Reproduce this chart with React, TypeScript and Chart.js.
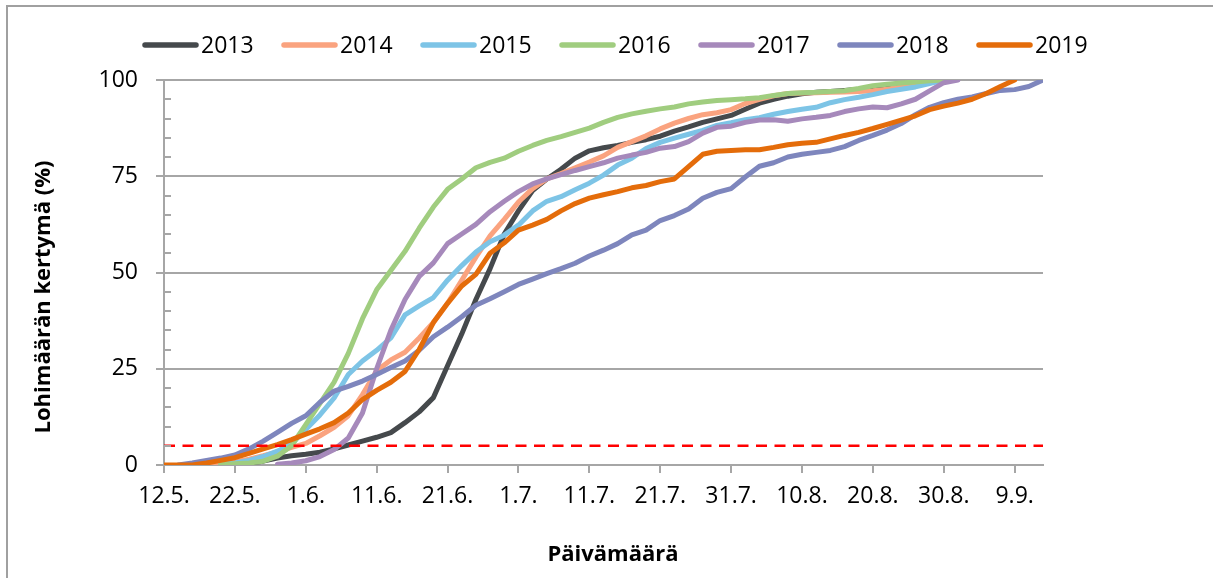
import React, { useEffect, useRef } from 'react';
import { Chart, registerables } from 'chart.js';

Chart.register(...registerables);

// Day index counted from 12.5. (0 = 12.5., 124 = 13.9.)
const dayIndex = [
  0, 2, 4, 6, 8, 10, 12, 14, 16, 18, 20, 22, 24, 26, 28, 30, 32, 34, 36, 38,
  40, 42, 44, 46, 48, 50, 52, 54, 56, 58, 60, 62, 64, 66, 68, 70, 72, 74, 76, 78,
  80, 82, 84, 86, 88, 90, 92, 94, 96, 98, 100, 102, 104, 106, 108, 110, 112, 114, 116, 118,
  120, 122, 124,
];

const xTickLabels = ['12.5.', '22.5.', '1.6.', '11.6.', '21.6.', '1.7.', '11.7.', '21.7.', '31.7.', '10.8.', '20.8.', '30.8.', '9.9.'];

const seriesNames = ['2013', '2014', '2015', '2016', '2017', '2018', '2019'];
const seriesColors = ['#45494c', '#faa37f', '#7dc4e6', '#a0cd7f', '#a689bb', '#7e86bd', '#e46c0a'];

const s2013 = [
  null, null, null, null, null,
  0.2, 0.5, 1.0, 1.8, 2.4,
  2.8, 3.3, 4.2, 5.2, 6.2,
  7.2, 8.4, 11, 13.8, 17.5,
  25.8, 34, 43, 51, 60,
  66, 71.3, 74.3, 76.8, 79.7,
  81.6, 82.4, 83, 83.8, 84.5,
  85.4, 86.7, 87.8, 89, 89.9,
  90.8, 92.4, 94, 95, 95.8,
  96.4, 96.8, 97, 97.3, 97.6,
  98, 98.4, 98.9, 99.3, 99.7,
  100,
  null, null, null, null, null, null, null,
];

const s2014 = [
  null, null, null,
  0.2, 0.5, 0.8, 1.5, 2.4,
  3.4, 4.6, 5.6, 7.6, 9.8,
  12.8, 18.3, 24.5, 27.3, 29.3,
  33, 37, 42, 48, 54,
  59.5, 63.8, 68.3, 71.8, 74.3,
  75.7, 77.2, 78.7, 80.3, 82.5,
  84, 85.5, 87.3, 88.8, 90,
  91, 91.5, 92.3, 93.9, 95,
  95.9, 96.5, 96.6, 96.7, 96.8,
  96.9, 97, 97.2, 97.6, 98.2,
  98.7, 99.5, 100,
  null, null, null, null, null, null, null,
];

const s2015 = [
  null, null, null, null,
  0.2, 0.5, 1.2, 2.2, 3.6,
  5.5, 9.2, 13, 17.4, 23.5,
  27, 29.8, 33, 39, 41.3,
  43.5, 48, 51.8, 55.3, 58,
  59.7, 62.3, 66, 68.5, 69.7,
  71.5, 73.2, 75.3, 77.9, 79.7,
  82.2, 83.8, 84.9, 85.9, 86.9,
  88.2, 88.9, 89.7, 90.2, 91.1,
  91.8, 92.4, 92.9, 94.1, 94.9,
  95.5, 96.2, 97, 97.6, 98.2,
  99.1, 100,
  null, null, null, null, null, null, null,
];

const s2016 = [
  null, null, null, null,
  0.1, 0.3, 0.5, 1, 2.3,
  5, 10.5, 16, 21.5, 29,
  38, 45.5, 50.5, 55.5, 61.5,
  67, 71.6, 74.3, 77.2, 78.6,
  79.7, 81.5, 83, 84.3, 85.3,
  86.4, 87.5, 89, 90.3, 91.2,
  91.9, 92.5, 93, 93.8, 94.3,
  94.7, 94.9, 95.1, 95.4, 96,
  96.5, 96.7, 96.8, 97, 97.2,
  97.8, 98.5, 98.9, 99.2, 99.5,
  99.8, 100,
  null, null, null, null, null, null, null,
];

const s2017 = [
  null, null, null, null, null, null, null, null,
  0.2, 0.5, 1.1, 2.2, 4,
  7, 13.5, 25, 35, 43,
  49, 52.5, 57.5, 60, 62.5,
  65.8, 68.5, 71, 73, 74.3,
  75.4, 76.5, 77.5, 78.5, 79.7,
  80.5, 81.2, 82.3, 82.7, 84,
  86.2, 87.7, 88, 89, 89.6,
  89.7, 89.3, 89.9, 90.3, 90.8,
  91.8, 92.5, 93, 92.8, 93.8,
  95, 97.2, 99.3, 100,
  null, null, null, null, null, null,
];

const s2018 = [
  null,
  0, 0.5, 1.2, 1.8, 2.6,
  4.2, 6.2, 8.5, 10.8, 12.8,
  16.3, 19.2, 20.4, 21.8, 23.5,
  25.3, 27, 29.8, 33.3, 35.8,
  38.5, 41.5, 43.2, 45, 46.9,
  48.3, 49.7, 51, 52.4, 54.3,
  55.8, 57.5, 59.8, 61, 63.5,
  64.8, 66.5, 69.3, 70.8, 71.8,
  74.8, 77.6, 78.5, 80, 80.7,
  81.2, 81.7, 82.7, 84.3, 85.6,
  87, 88.7, 91, 92.9, 94.1,
  95, 95.6, 96.5, 97.3, 97.5,
  98.3, 100,
];

const s2019 = [
  0, 0, 0, 0.5, 1.2,
  1.9, 3, 4.2, 5.3, 6.6,
  8, 9.4, 11, 13.5, 17,
  19.4, 21.5, 24.3, 30, 37,
  42, 46.5, 49.5, 55, 57.7,
  61, 62.3, 63.8, 66, 67.9,
  69.3, 70.2, 71, 72, 72.6,
  73.6, 74.3, 77.5, 80.7, 81.5,
  81.7, 81.9, 81.9, 82.5, 83.2,
  83.6, 83.8, 84.7, 85.6, 86.4,
  87.4, 88.5, 89.6, 90.7, 92.3,
  93.2, 94, 95, 96.5, 98.3,
  100,
  null, null,
];

const seriesValues = [s2013, s2014, s2015, s2016, s2017, s2018, s2019];

const thresholdValue = 5;
const thresholdDays = [0, 124];

const yTitle = 'Lohimäärän kertymä (%)';
const xTitle = 'Päivämäärä';

const FONT = "'Open Sans', 'Noto Sans', sans-serif";
const GRID = '#a6a6a6';

const decorPlugin = {
  id: 'decor',
  beforeDraw(chart: any) {
    const ctx = chart.ctx;
    ctx.save();
    ctx.fillStyle = '#ffffff';
    ctx.fillRect(0, 0, chart.width, chart.height);
    ctx.strokeStyle = '#a0a0a0';
    ctx.lineWidth = 2;
    ctx.strokeRect(7, 6, 1400, 800);
    ctx.restore();
  },
  afterDraw(chart: any) {
    const ctx = chart.ctx;
    const y = chart.scales.y;
    const area = chart.chartArea;
    ctx.save();
    // minor ticks on y axis (inside)
    ctx.strokeStyle = GRID;
    ctx.lineWidth = 2;
    for (let v = 5; v < 100; v += 5) {
      if (v % 25 === 0) continue;
      const py = Math.round(y.getPixelForValue(v));
      ctx.beginPath();
      ctx.moveTo(area.left, py);
      ctx.lineTo(area.left + 7, py);
      ctx.stroke();
    }
    // legend
    ctx.font = `23px ${FONT}`;
    ctx.textBaseline = 'alphabetic';
    ctx.textAlign = 'left';
    for (let i = 0; i < seriesNames.length; i++) {
      const x0 = 143 + 139 * i;
      ctx.strokeStyle = seriesColors[i];
      ctx.lineWidth = 5.5;
      ctx.lineCap = 'round';
      ctx.beginPath();
      ctx.moveTo(x0 + 2, 45);
      ctx.lineTo(x0 + 53, 45);
      ctx.stroke();
      ctx.fillStyle = '#000';
      ctx.fillText(seriesNames[i], x0 + 58, 53);
    }
    // axis titles
    ctx.font = `bold 22px ${FONT}`;
    ctx.fillStyle = '#000';
    ctx.textAlign = 'center';
    ctx.textBaseline = 'alphabetic';
    ctx.fillText(xTitle, 613, 561);
    ctx.translate(50, 297);
    ctx.rotate(-Math.PI / 2);
    ctx.fillText(yTitle, 0, 0);
    ctx.restore();
  },
};

export default function App() {
  const ref = useRef<HTMLCanvasElement>(null);

  useEffect(() => {
    document.body.style.margin = '0';
    const canvas = ref.current;
    if (!canvas) return;

    const datasets: any[] = seriesNames.map((name, i) => ({
      label: name,
      data: dayIndex.map((d, j) => ({ x: d, y: seriesValues[i][j] })),
      borderColor: seriesColors[i],
      backgroundColor: seriesColors[i],
      borderWidth: 5,
      pointRadius: 0,
      tension: 0,
      fill: false,
      spanGaps: false,
      borderCapStyle: 'round',
      borderJoinStyle: 'round',
      order: seriesNames.length - i,
    }));
    datasets.push({
      label: 'threshold',
      data: thresholdDays.map((d) => ({ x: d, y: thresholdValue })),
      borderColor: '#ff0000',
      borderWidth: 2.5,
      borderDash: [11, 7.5],
      pointRadius: 0,
      fill: false,
      order: -1,
    });

    const chart = new Chart(canvas, {
      type: 'line',
      data: { datasets },
      plugins: [decorPlugin],
      options: {
        responsive: false,
        animation: false,
        layout: { padding: { left: 0, top: 80, right: 170, bottom: 0 } },
        plugins: {
          legend: { display: false },
          tooltip: { enabled: false },
          title: { display: false },
        },
        scales: {
          x: {
            type: 'linear',
            min: 0,
            max: 124,
            ticks: {
              stepSize: 10,
              includeBounds: false,
              autoSkip: false,
              maxRotation: 0,
              color: '#000',
              font: { family: FONT, size: 23 },
              padding: 10,
              callback: (v: any) => {
                const n = Number(v);
                return n % 10 === 0 ? xTickLabels[n / 10] ?? '' : '';
              },
            },
            grid: { drawOnChartArea: false, drawTicks: true, tickLength: 8, color: GRID, lineWidth: 2 },
            border: { display: true, color: GRID, width: 2 },
            afterFit: (s: any) => {
              s.height = 113;
            },
          },
          y: {
            min: 0,
            max: 100,
            ticks: {
              stepSize: 25,
              color: '#000',
              font: { family: FONT, size: 23 },
              padding: 18,
            },
            grid: { color: GRID, lineWidth: 2, tickLength: 8, drawTicks: true },
            border: { display: true, color: GRID, width: 2 },
            afterFit: (s: any) => {
              s.width = 164;
            },
          },
        },
      } as any,
    });

    return () => chart.destroy();
  }, []);

  return (
    <canvas
      ref={ref}
      width={1213}
      height={578}
      style={{ display: 'block', width: 1213, height: 578 }}
    />
  );
}
